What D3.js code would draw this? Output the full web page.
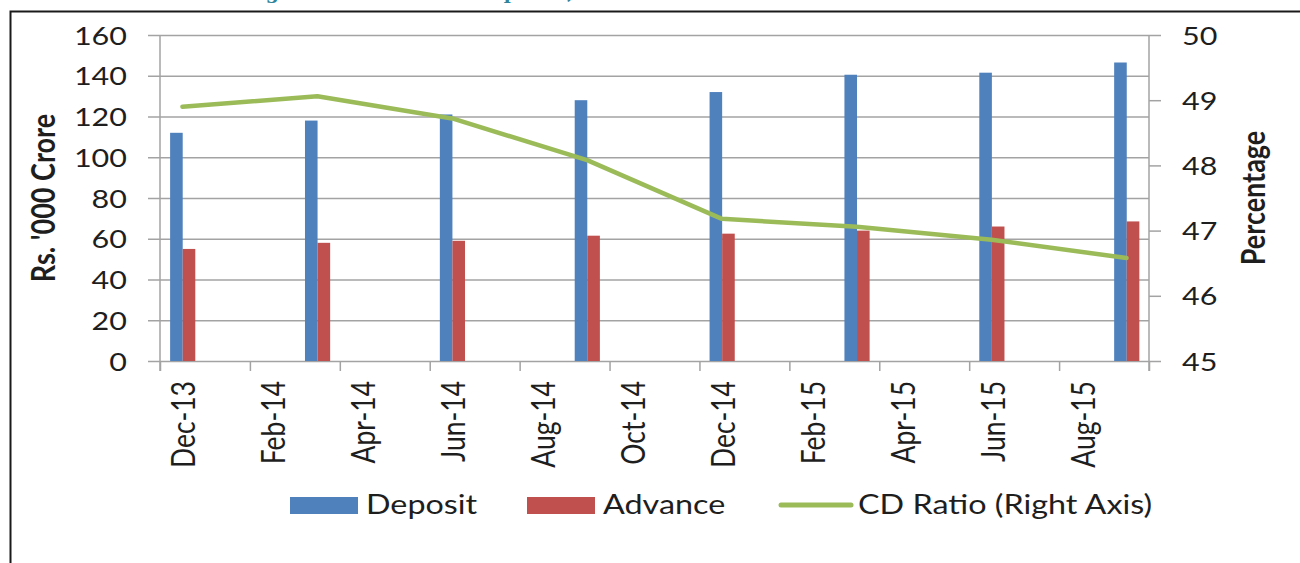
<!DOCTYPE html>
<html>
<head>
<meta charset="utf-8">
<script src="https://cdn.jsdelivr.net/npm/d3@7/dist/d3.min.js"></script>
<style>
    body { margin: 0; background: #fff; }
    svg { display: block; }
</style>
</head>
<body>
<div id="chart"></div>
<script>
// quarterly figures
const months = ["2013-12", "2014-03", "2014-06", "2014-09", "2014-12", "2015-03", "2015-06", "2015-09"];
const deposit = [112, 118, 121, 128, 132, 140.5, 141.5, 146.5];
const advance = [55, 58, 59, 61.5, 62.5, 64, 66, 68.5];
const cdRatio = [48.9, 49.06, 48.72, 48.08, 47.18, 47.06, 46.86, 46.58];

const leftTicks = [0, 20, 40, 60, 80, 100, 120, 140, 160];
const rightTicks = [45, 46, 47, 48, 49, 50];
const seriesNames = ["Deposit", "Advance", "CD Ratio (Right Axis)"];
const axisTitles = ["Rs. '000 Crore", "Percentage"];
const titleText = "Figure 3.2: Trends in Deposits, Advances and CD Ratio";

const
    W = 1300,
    H = 563,
    plot = { left: 160, right: 1149, top: 35, bottom: 361 },
    stretch = 1.22,
    font = "Lato, 'Open Sans', sans-serif";

const colors = {
    deposit: "#4F81BD",
    advance: "#C0504D",
    ratio: "#9BBB59",
    grid: "#A3A3A3",
    text: "#1e1e1e",
    frame: "#1a1a1a",
    title: "#31849B"
};

const parseMonth = d3.timeParse("%Y-%m");
const fmtMonth = d3.timeFormat("%b-%y");
const axisStart = parseMonth("2013-12");
const axisEnd = parseMonth("2015-10");
const monthIdx = d => d3.timeMonth.count(axisStart, d);

// excel date axis: every month gets the same width
const x = d3.scaleLinear().domain([0, monthIdx(axisEnd)]).range([plot.left, plot.right]);
const monthW = x(1) - x(0);
const inner = d3.scaleBand().domain(["deposit", "advance"]).range([-0.275 * monthW, 0.285 * monthW]);
const y = d3.scaleLinear().domain([0, 160]).range([plot.bottom, plot.top]);
const y2 = d3.scaleLinear().domain([45, 50]).range([plot.bottom, plot.top]);

const rows = months.map((m, i) => ({
    date: parseMonth(m),
    deposit: deposit[i],
    advance: advance[i],
    ratio: cdRatio[i]
}));
const center = d => x(monthIdx(d.date) + 0.5);
// every second month counted from Dec-13
const tickDates = d3.timeMonth.range(axisStart, d3.timeMonth.offset(axisEnd, 1), 2);

const svg = d3.select("#chart").append("svg")
    .attr("viewBox", [0, 0, W, H])
    .attr("width", W)
    .attr("height", H)
    .style("font-family", font);

// stretched text, the original picture is wider than it was drawn
function label(g, text, tx, ty, rotate, size, weight) {
    return g.append("text")
        .attr("transform", `translate(${tx},${ty}) scale(${stretch},1)` + (rotate ? ` rotate(${rotate})` : ""))
        .attr("font-size", size)
        .attr("font-weight", weight || 400)
        .attr("fill", colors.text)
        .text(text);
}

// title, cut off by the top of the picture
svg.append("text")
    .attr("x", 245)
    .attr("y", -1)
    .attr("font-family", "'DejaVu Serif', serif")
    .attr("font-weight", 700)
    .attr("font-size", 19)
    .attr("fill", colors.title)
    .text(titleText);

// frame of the page
svg.append("path")
    .attr("d", `M10.5,${H} V11.5 H${W}`)
    .attr("fill", "none")
    .attr("stroke", colors.frame)
    .attr("stroke-width", 2);

// left axis drawn from the right side, so ticks double as gridlines
const gLeft = svg.append("g")
    .attr("transform", `translate(${plot.right},0)`)
    .call(d3.axisLeft(y).tickValues(leftTicks).tickSize(plot.right - plot.left + 12).tickFormat(d3.format("d")));
gLeft.select(".domain").remove();
gLeft.selectAll(".tick line").attr("stroke", colors.grid).attr("stroke-width", 1.5);
gLeft.selectAll(".tick text")
    .attr("x", null)
    .attr("dy", "0.36em")
    .attr("transform", `translate(${-(plot.right - plot.left + 12 + 21)},0) scale(${stretch},1)`)
    .attr("font-size", 25)
    .attr("font-family", font)
    .attr("fill", colors.text);

const gRight = svg.append("g")
    .attr("transform", `translate(${plot.right},0)`)
    .call(d3.axisRight(y2).tickValues(rightTicks).tickSize(12).tickFormat(d3.format("d")));
gRight.select(".domain").remove();
gRight.selectAll(".tick line").attr("stroke", colors.grid).attr("stroke-width", 1.5);
gRight.selectAll(".tick text")
    .attr("x", null)
    .attr("dy", "0.36em")
    .attr("transform", `translate(${12 + 21},0) scale(${stretch},1)`)
    .attr("font-size", 25)
    .attr("font-family", font)
    .attr("fill", colors.text);

const gBottom = svg.append("g")
    .attr("transform", `translate(0,${plot.bottom})`)
    .call(d3.axisBottom(x).tickValues(tickDates.map(monthIdx)).tickSize(10).tickFormat(""));
gBottom.select(".domain").remove();
gBottom.selectAll(".tick line").attr("stroke", colors.grid).attr("stroke-width", 1.5);

// axis lines
[plot.left, plot.right].forEach(px => {
    svg.append("line")
        .attr("x1", px).attr("x2", px)
        .attr("y1", plot.top).attr("y2", plot.bottom + 10)
        .attr("stroke", colors.grid).attr("stroke-width", 1.5);
});

// month labels, one per tick, centred on their month
const gLabels = svg.append("g");
tickDates.slice(0, -1).forEach(d => {
    label(gLabels, fmtMonth(d), x(monthIdx(d) + 0.5) + 13, plot.bottom + 20, -90, 26.5)
        .attr("text-anchor", "end");
});

// bars
const gBars = svg.append("g");
["deposit", "advance"].forEach(key => {
    gBars.selectAll(`rect.${key}`)
        .data(rows)
        .join("rect")
        .attr("class", key)
        .attr("x", d => center(d) + inner(key))
        .attr("y", d => y(d[key]))
        .attr("width", inner.bandwidth())
        .attr("height", d => y(0) - y(d[key]))
        .attr("fill", colors[key]);
});

// cd ratio line
svg.append("path")
    .datum(rows)
    .attr("d", d3.line().x(center).y(d => y2(d.ratio)))
    .attr("fill", "none")
    .attr("stroke", colors.ratio)
    .attr("stroke-width", 4.5)
    .attr("stroke-linecap", "round")
    .attr("stroke-linejoin", "round");

// axis titles
label(svg, axisTitles[0], 55, (plot.top + plot.bottom) / 2, -90, 27, 700).attr("text-anchor", "middle");
label(svg, axisTitles[1], 1265, (plot.top + plot.bottom) / 2, -90, 27, 700).attr("text-anchor", "middle");

// legend
const legendY = 505;
const gLegend = svg.append("g");
[["deposit", 290], ["advance", 527]].forEach(([key, lx], i) => {
    gLegend.append("rect")
        .attr("x", lx).attr("y", legendY - 8)
        .attr("width", 68).attr("height", 17)
        .attr("fill", colors[key]);
    label(gLegend, seriesNames[i], lx + 76, legendY + 9, 0, 26.5);
});
gLegend.append("line")
    .attr("x1", 781).attr("x2", 851)
    .attr("y1", legendY).attr("y2", legendY)
    .attr("stroke", colors.ratio)
    .attr("stroke-width", 5)
    .attr("stroke-linecap", "round");
label(gLegend, seriesNames[2], 858, legendY + 9, 0, 26.5);
</script>
</body>
</html>
